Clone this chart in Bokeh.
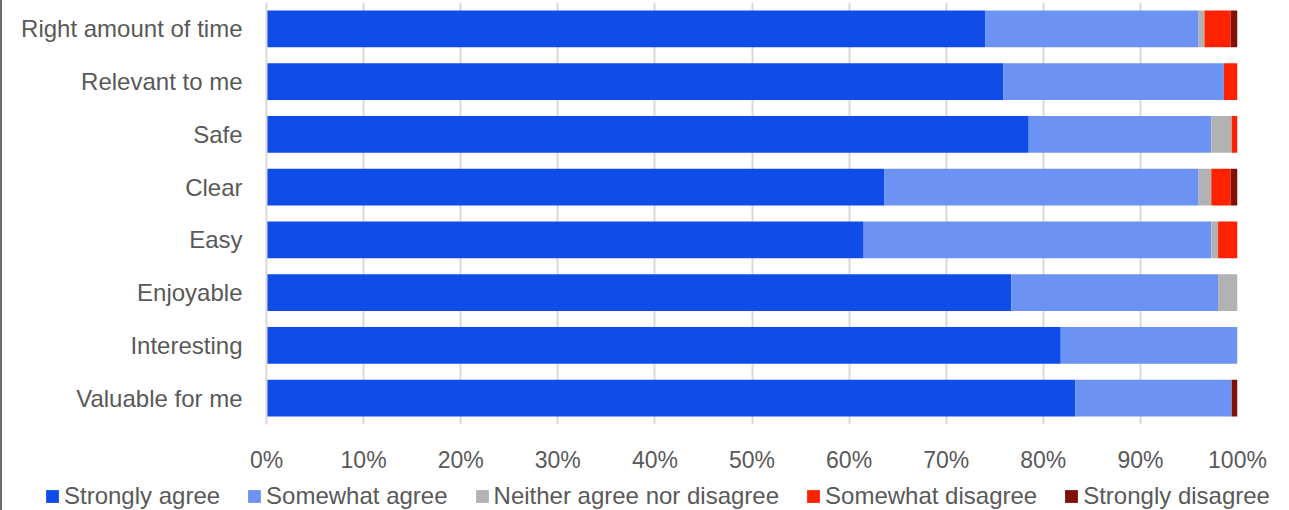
from bokeh.plotting import figure
from bokeh.models import (ColumnDataSource, FactorRange, Range1d, FixedTicker,
                          PrintfTickFormatter, Legend, LegendItem, Div)
from bokeh.layouts import row, column
from bokeh.embed import file_html
from bokeh.resources import INLINE

# Categories listed top to bottom as in the chart
categories = ["Right amount of time", "Relevant to me", "Safe", "Clear",
              "Easy", "Enjoyable", "Interesting", "Valuable for me"]
series_names = ["Strongly agree", "Somewhat agree", "Neither agree nor disagree",
                "Somewhat disagree", "Strongly disagree"]
strongly_agree    = [74.0, 75.9, 78.5, 63.6, 61.5, 76.7, 81.8, 83.3]
somewhat_agree    = [22.0, 22.7, 18.8, 32.4, 35.8, 21.3, 18.2, 16.1]
neither           = [0.6,  0.0,  2.1,  1.3,  0.7,  2.0,  0.0,  0.0]
somewhat_disagree = [2.7,  1.4,  0.6,  2.0,  2.0,  0.0,  0.0,  0.0]
strongly_disagree = [0.7,  0.0,  0.0,  0.7,  0.0,  0.0,  0.0,  0.6]
x_ticks = [0, 10, 20, 30, 40, 50, 60, 70, 80, 90, 100]

colors = ["#0f4ce8", "#6c93f3", "#b2b2b2", "#ff2200", "#7f1104"]
keys = ["sa", "swa", "n", "sd", "std"]

source = ColumnDataSource(dict(cat=categories, sa=strongly_agree, swa=somewhat_agree,
                               n=neither, sd=somewhat_disagree, std=strongly_disagree))

FONT = "Liberation Sans"
TXT = "#595959"

p = figure(width=1287, height=475, output_backend="svg", toolbar_location=None,
           y_range=FactorRange(factors=list(reversed(categories)), range_padding=0),
           x_range=Range1d(0, 100),
           min_border_left=264, min_border_right=52, min_border_top=2,
           min_border_bottom=48)

p.hbar_stack(keys, y="cat", height=0.7, color=colors, source=source, line_color=None)

p.outline_line_color = None
p.ygrid.grid_line_color = None
p.xgrid.grid_line_color = "#d9d9d9"
p.xgrid.grid_line_width = 2
p.xaxis.ticker = FixedTicker(ticks=x_ticks)
p.xgrid.ticker = FixedTicker(ticks=x_ticks)
p.xaxis.formatter = PrintfTickFormatter(format="%d%%")

for ax in (p.xaxis, p.yaxis):
    ax.major_tick_line_color = None
    ax.minor_tick_line_color = None
    ax.major_label_text_font = FONT
    ax.major_label_text_color = TXT
p.xaxis.major_label_text_font_size = "23px"
p.yaxis.major_label_text_font_size = "24px"
p.xaxis.axis_line_color = None
p.yaxis.axis_line_color = "#d9d9d9"
p.yaxis.axis_line_width = 2
p.xaxis.major_label_standoff = 16
p.yaxis.major_label_standoff = 18

# Legend strip below the chart
lg = figure(width=1287, height=35, output_backend="svg", toolbar_location=None,
            x_range=Range1d(0, 1), y_range=Range1d(0, 1),
            min_border_left=0, min_border_right=0, min_border_top=0, min_border_bottom=0)
lg.axis.visible = False
lg.grid.visible = False
lg.outline_line_color = None
items = []
for name, c in zip(series_names, colors):
    # swatch renderer kept outside the visible range; only its legend entry shows
    r = lg.quad(left=[5], right=[6], top=[6], bottom=[5], fill_color=c, line_color=None)
    items.append(LegendItem(label=name, renderers=[r]))
legend = Legend(items=items, orientation="horizontal", location=(42, 0),
                glyph_width=16, glyph_height=16, label_standoff=4, spacing=26,
                padding=0, margin=0, border_line_color=None, background_fill_alpha=0,
                label_text_font=FONT, label_text_font_size="24px", label_text_color=TXT)
lg.add_layout(legend, "center")

edge = Div(width=2, height=510, margin=0, styles={"background-color": "#6b6b6b"})
layout = row(edge, column(row(p, spacing=0), row(lg, spacing=0), spacing=0), spacing=0)

open("out.html", "w").write(file_html(layout, INLINE))
